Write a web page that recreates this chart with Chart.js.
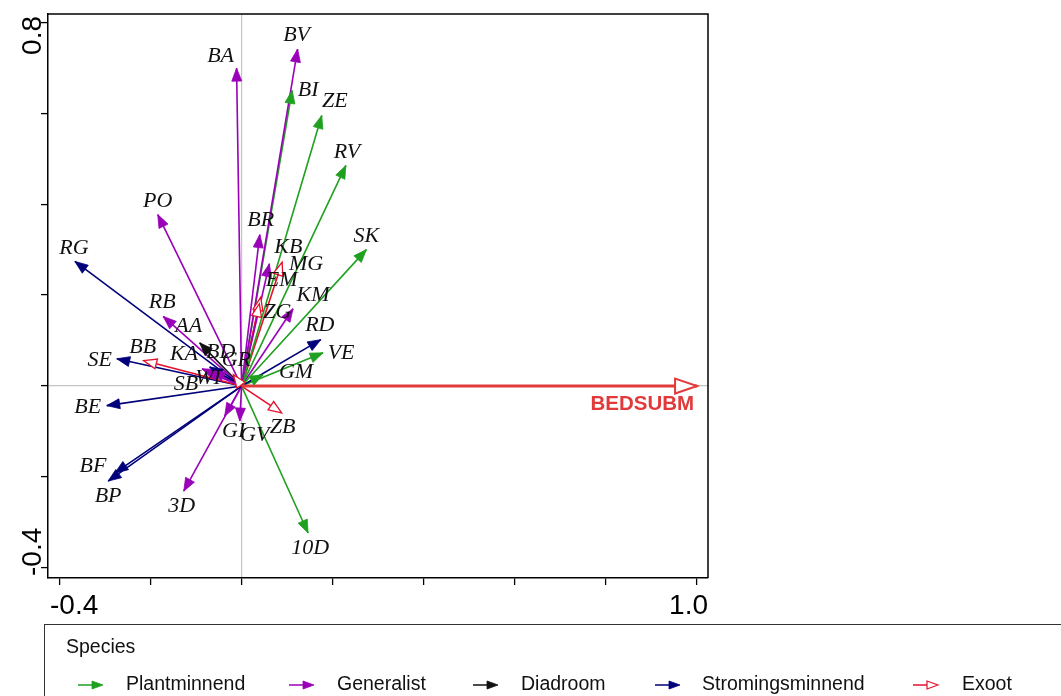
<!DOCTYPE html>
<html><head><meta charset="utf-8">
<script src="https://cdn.jsdelivr.net/npm/chart.js@4.4.1/dist/chart.umd.min.js"></script>
<style>html,body{margin:0;padding:0;background:#fff;overflow:hidden}</style>
</head><body>
<canvas id="c" width="1061" height="696"></canvas>
<script>
// ---------- DATA ----------
const species = ['BA','BV','BI','ZE','RV','PO','RG','BR','SK','KB','MG','EM','KM','ZG','RD','VE','GM','RB','AA','KA','BD','GR','SB','WI','BB','SE','BE','BF','BP','3D','GI','GV','ZB','10D'];
// 0 Plantminnend, 1 Generalist, 2 Diadroom, 3 Stromingsminnend, 4 Exoot
const speciesGroup = [1,1,0,0,0,1,3,1,0,1,4,4,1,4,3,0,0,1,2,1,3,4,1,1,4,3,3,3,3,1,1,1,4,0];
const axis1 = [-0.011,0.123,0.111,0.176,0.229,-0.184,-0.366,0.040,0.274,0.061,0.089,0.042,0.113,0.039,0.174,0.179,0.047,-0.172,-0.092,-0.087,-0.070,-0.018,-0.078,-0.065,-0.215,-0.274,-0.296,-0.278,-0.293,-0.127,-0.037,-0.004,0.088,0.146];
const axis2 = [0.699,0.741,0.650,0.595,0.485,0.377,0.274,0.333,0.300,0.269,0.272,0.195,0.170,0.181,0.102,0.073,0.025,0.153,0.095,0.038,0.042,0.025,0.032,0.034,0.056,0.060,-0.043,-0.191,-0.209,-0.231,-0.066,-0.077,-0.059,-0.323];
const groupNames = ['Plantminnend','Generalist','Diadroom','Stromingsminnend','Exoot'];
const envNames = ['BEDSUBM'];
const envAxis1 = [1.0];
const envAxis2 = [0.0];
const xTickLabels = ['-0.4','1.0'];
const yTickLabels = ['0.8','-0.4'];
const legendTitle = 'Species';

// ---------- STYLE / LAYOUT ----------
const groupColors = ['#20a020','#9a00b8','#111111','#00007a','#e5102c'];
const groupHollow = [false,false,false,false,true];
const envColor = '#e23a3a';
const xRange = [-0.425, 1.024];
const yRange = [-0.422, 0.818];
// label nudges in pixels relative to arrow tip
const labelNudge = {
  BA:[-16,-12], BV:[-1,-14], BI:[16,0], ZE:[13,-14], RV:[1,-13], PO:[0,-13], RG:[-1,-13],
  BR:[1,-14], SK:[0,-13], KB:[19,-16], MG:[24,2], EM:[21,-17], KM:[20,-14], ZG:[18,8],
  RD:[-1,-14], VE:[18,0], GM:[33,-2], RB:[-1,-14], AA:[-11,-17], KA:[-18,-15], BD:[11,-15],
  GR:[3,-14], SB:[-20,13], WI:[-4,8], BB:[-1,-13], SE:[-17,1], BE:[-19,2], BF:[-22,-7],
  BP:[0,15], '3D':[-2,15], GI:[9,15], GV:[15,14], ZB:[1,14], '10D':[2,15]
};
const legendArrowX = [78,289,473,655,913];
const legendTextX = [126,337,521,702,962];

function drawHead(ctx, x0, y0, x1, y1, len, hw, color, hollow, lw) {
  const a = Math.atan2(y1 - y0, x1 - x0);
  const bx = x1 - len * Math.cos(a), by = y1 - len * Math.sin(a);
  const px = -Math.sin(a) * hw, py = Math.cos(a) * hw;
  ctx.save();
  ctx.beginPath();
  ctx.moveTo(x1, y1);
  ctx.lineTo(bx + px, by + py);
  ctx.lineTo(bx - px, by - py);
  ctx.closePath();
  ctx.lineJoin = 'miter';
  if (hollow) {
    ctx.fillStyle = '#fff'; ctx.fill();
    ctx.strokeStyle = color; ctx.lineWidth = lw || 1.3; ctx.stroke();
  } else {
    ctx.fillStyle = color; ctx.fill();
    ctx.strokeStyle = color; ctx.lineWidth = 0.8; ctx.stroke();
  }
  ctx.restore();
}

const datasets = [];
envNames.forEach((n, i) => {
  datasets.push({
    label: n, kind: 'env',
    data: [{x: 0, y: 0}, {x: envAxis1[i], y: envAxis2[i]}],
    borderColor: envColor, borderWidth: 3, pointRadius: 0, showLine: true
  });
});
species.forEach((n, i) => {
  const g = speciesGroup[i];
  datasets.push({
    label: n, kind: 'sp', group: g,
    data: [{x: 0, y: 0}, {x: axis1[i], y: axis2[i]}],
    borderColor: groupColors[g], borderWidth: 1.6, pointRadius: 0, showLine: true
  });
});

const biplot = {
  id: 'biplot',
  afterDatasetsDraw(chart) {
    const ctx = chart.ctx;
    chart.data.datasets.forEach((ds, di) => {
      const m = chart.getDatasetMeta(di);
      const p0 = m.data[0], p1 = m.data[1];
      if (ds.kind === 'env') {
        drawHead(ctx, p0.x, p0.y, p1.x, p1.y, 22, 7.5, envColor, true, 2);
      } else {
        drawHead(ctx, p0.x, p0.y, p1.x, p1.y, 13, 5, groupColors[ds.group], groupHollow[ds.group], 1.3);
      }
    });
    ctx.save();
    ctx.font = 'italic 22px "Liberation Serif"';
    ctx.fillStyle = '#111';
    ctx.textAlign = 'center'; ctx.textBaseline = 'middle';
    chart.data.datasets.forEach((ds, di) => {
      if (ds.kind !== 'sp') return;
      const p1 = chart.getDatasetMeta(di).data[1];
      const nd = labelNudge[ds.label] || [0, -14];
      ctx.fillText(ds.label, p1.x + nd[0], p1.y + nd[1]);
    });
    ctx.font = 'bold 20.5px "Liberation Sans"';
    ctx.fillStyle = envColor;
    ctx.textAlign = 'right';
    chart.data.datasets.forEach((ds, di) => {
      if (ds.kind !== 'env') return;
      const p1 = chart.getDatasetMeta(di).data[1];
      ctx.fillText(ds.label, p1.x - 3, p1.y + 18);
    });
    ctx.restore();
  },
  afterDraw(chart) {
    const ctx = chart.ctx;
    const ca = chart.chartArea;
    ctx.save();
    ctx.strokeStyle = '#000'; ctx.lineWidth = 1.5;
    ctx.beginPath();
    ctx.moveTo(ca.left, ca.top); ctx.lineTo(ca.right, ca.top); ctx.lineTo(ca.right, ca.bottom);
    ctx.stroke();
    ctx.fillStyle = '#000';
    ctx.font = '28px "Liberation Sans"';
    ctx.textBaseline = 'middle';
    ctx.textAlign = 'left';
    ctx.fillText(xTickLabels[0], ca.left + 2, 606);
    ctx.textAlign = 'right';
    ctx.fillText(xTickLabels[1], ca.right, 606);
    ctx.save();
    ctx.translate(33, ca.top); ctx.rotate(-Math.PI / 2);
    ctx.textAlign = 'right';
    ctx.fillText(yTickLabels[0], -2, 0);
    ctx.restore();
    ctx.save();
    ctx.translate(33, ca.bottom); ctx.rotate(-Math.PI / 2);
    ctx.textAlign = 'left';
    ctx.fillText(yTickLabels[1], 2, 0);
    ctx.restore();
    // legend
    ctx.strokeStyle = '#333'; ctx.lineWidth = 1;
    ctx.strokeRect(44.5, 624.5, 1100, 120);
    ctx.font = '19.5px "Liberation Sans"';
    ctx.textAlign = 'left';
    ctx.fillStyle = '#111';
    ctx.fillText(legendTitle, 66, 648);
    ctx.font = '19.5px "Liberation Sans"';
    groupNames.forEach((g, i) => {
      const x0 = legendArrowX[i], y = 685;
      ctx.strokeStyle = groupColors[i]; ctx.lineWidth = 1.5;
      ctx.beginPath(); ctx.moveTo(x0, y); ctx.lineTo(x0 + 22, y); ctx.stroke();
      drawHead(ctx, x0, y, x0 + 25, y, 11, 4, groupColors[i], groupHollow[i], 1.2);
      ctx.fillStyle = '#111';
      ctx.fillText(g, legendTextX[i], y);
    });
    ctx.restore();
  }
};

new Chart(document.getElementById('c'), {
  type: 'scatter',
  data: { datasets },
  options: {
    responsive: false, animation: false,
    layout: { padding: { left: 0, top: 14, right: 353, bottom: 0 } },
    plugins: { legend: { display: false }, tooltip: { enabled: false } },
    elements: { line: { tension: 0 } },
    scales: {
      x: {
        type: 'linear', min: xRange[0], max: xRange[1],
        ticks: { stepSize: 0.2, includeBounds: false, display: false },
        grid: {
          drawOnChartArea: true, drawTicks: true, tickLength: 7,
          color: c => (c.tick && Math.abs(c.tick.value) < 1e-9) ? '#c4c4c4' : 'rgba(0,0,0,0)',
          tickColor: '#000', lineWidth: 1.2, tickWidth: 1.3
        },
        border: { display: true, color: '#000', width: 1.5 },
        afterFit(s) { s.height = 118; }
      },
      y: {
        type: 'linear', min: yRange[0], max: yRange[1],
        ticks: { stepSize: 0.2, includeBounds: false, display: false },
        grid: {
          drawOnChartArea: true, drawTicks: true, tickLength: 7,
          color: c => (c.tick && Math.abs(c.tick.value) < 1e-9) ? '#c4c4c4' : 'rgba(0,0,0,0)',
          tickColor: '#000', lineWidth: 1.2, tickWidth: 1.3
        },
        border: { display: true, color: '#000', width: 1.5 },
        afterFit(s) { s.width = 48; }
      }
    }
  },
  plugins: [biplot]
});
</script>
</body></html>
